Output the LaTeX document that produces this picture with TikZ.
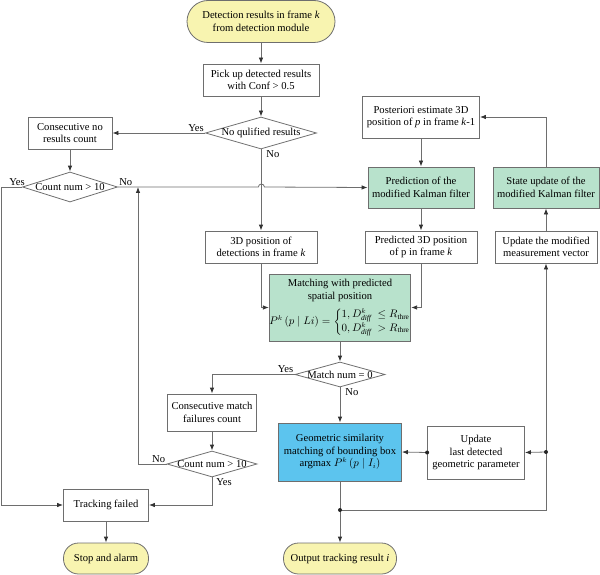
\documentclass[tikz,border=0pt]{standalone}
\usepackage{fontspec}
\usepackage{amsmath}
\setmainfont{Liberation Serif}
\usetikzlibrary{shapes.geometric,arrows.meta}
\definecolor{termyel}{RGB}{248,244,176}
\definecolor{kalgreen}{RGB}{184,226,204}
\definecolor{simblue}{RGB}{92,196,238}
\definecolor{linegray}{RGB}{110,110,110}

\begin{document}
\begin{tikzpicture}[x=1pt, y=-1pt, line width=0.8pt, font=\fontsize{10.6}{12.6}\selectfont,
  box/.style = {draw=linegray, rectangle, align=center, inner sep=1pt},
  term/.style = {box, fill=termyel},
  kal/.style = {box, fill=kalgreen},
  sim/.style = {box, fill=simblue},
  cond/.style = {draw=linegray, diamond, inner sep=0pt},
  arr/.style = {draw=linegray, -{Latex[length=6pt,width=4.5pt,color=black!80]}},
  lbl/.style = {inner sep=1pt}]

		\useasboundingbox (0,0) rectangle (600,575);

		\node[term, minimum width=148pt, minimum height=42pt, rounded corners=21pt] (S) at (261,21.5) {Detection results in frame \textit{k}\\from detection module};
		\node[box, minimum width=116pt, minimum height=32pt] (PU) at (261,80) {Pick up detected results\\with Conf > 0.5};
		\node[cond, minimum width=111pt, minimum height=32pt] (Q1) at (261,133) {\makebox[0pt]{No qulified results}};
		\node[box, minimum width=84pt, minimum height=32pt] (NR) at (70,133) {Consecutive no\\results count};
		\node[cond, minimum width=95pt, minimum height=30pt] (C1) at (70,187) {\makebox[0pt]{Count num > 10}};
		\node[box, minimum width=117pt, minimum height=42pt] (PE) at (421,117) {Posteriori estimate 3D\\position of \textit{p} in frame \textit{k}-1};
		\node[kal, minimum width=106pt, minimum height=41pt] (PR) at (421,187.5) {Prediction of the\\modified Kalman filter};
		\node[kal, minimum width=106pt, minimum height=41pt] (SU) at (546,187.5) {State update of the\\modified Kalman filter};
		\node[box, minimum width=112pt, minimum height=32pt] (D3) at (261,247) {3D position of\\detections in frame \textit{k}};
		\node[box, minimum width=112pt, minimum height=32pt] (P3) at (421,247) {Predicted 3D position\\of p in frame \textit{k}};
		\node[box, minimum width=102pt, minimum height=32pt] (UM) at (546,247) {Update the modified\\measurement vector};
		\node[kal, minimum width=134pt, minimum height=67pt, inner sep=0pt] (MA) at (340,307.5) {Matching with predicted\\spatial position\\[6pt]$P^k\,(p\mid Li)=\left\{\begin{array}{@{}l@{}}1, D^k_{\mathit{diff}}\;\le R_{\text{thre}}\\[1pt] 0, D^k_{\mathit{diff}}\;> R_{\text{thre}}\end{array}\right.$};
		\node[cond, minimum width=90pt, minimum height=25pt] (M0) at (340,374.5) {\makebox[0pt]{Match num = 0}};
		\node[box, minimum width=89pt, minimum height=37pt] (MF) at (212,412.5) {Consecutive match\\failures count};
		\node[cond, minimum width=90pt, minimum height=26pt] (C2) at (212,464) {\makebox[0pt]{Count num > 10}};
		\node[box, minimum width=85pt, minimum height=32pt] (TF) at (106,505) {Tracking failed};
		\node[term, minimum width=85pt, minimum height=31pt, rounded corners=15pt] (SA) at (106,558.5) {Stop and alarm};
		\node[sim, minimum width=123pt, minimum height=58pt] (GS) at (340,452) {Geometric similarity\\matching of bounding box\\argmax $P^k\,(p\mid I_i)$};
		\node[box, minimum width=97pt, minimum height=53pt] (UG) at (476,452.5) {Update\\last detected\\geometric parameter};
		\node[term, minimum width=113pt, minimum height=31pt, rounded corners=15pt] (OT) at (340,558.5) {Output tracking result \textit{i}};

		\coordinate (J1) at (138,187);
		\coordinate (J2) at (340,510);
		\coordinate (J3) at (546,452);

		\draw[arr] (S) -- (PU);
		\draw[arr] (PU) -- (Q1);
		\draw[arr] (Q1.west) node[lbl, above left] {Yes} -- (NR.east);
		\draw[arr] (Q1.south) node[lbl, below right, xshift=4pt] {No} -- (D3.north);
		\draw[arr] (NR) -- (C1);
		\draw[arr] (C1.west) node[lbl, above, xshift=-5pt] {Yes} -- ++(-21,0) |- (TF.west);
		\draw[arr] (C1.east) node[lbl, above right] {No} -- ++(140.5,0) arc (180:0:3pt) -- (PR.west);
		\draw[arr] (PE) -- (PR);
		\draw[arr] (PR) -- (P3);
		\draw[arr] (SU.north) |- (PE.east);
		\draw[arr] (UM) -- (SU);
		\draw[arr] (D3.south) |- (MA.west);
		\draw[arr] (P3.south) |- (MA.east);
		\draw[arr] (MA) -- (M0);
		\draw[arr] (M0.west) node[lbl, above left] {Yes} -| (MF.north);
		\draw[arr] (M0.south) node[lbl, below right, xshift=4pt] {No} -- (GS.north);
		\draw[arr] (MF) -- (C2);
		\draw[arr] (C2.west) node[lbl, above left] {No} -| (J1);
		\draw[arr] (C2.south) node[lbl, below right, xshift=3pt] {Yes} |- (TF.east);
		\draw[arr] (TF) -- (SA);
		\draw[arr] (GS) -- (OT);
		\draw[arr] (J2) -| (UM.south);
		\draw[arr] (J3) -- (UG.east);
		\draw[arr] (UG.west) -- (GS.east);
		\fill[black!85] (J2) circle (2pt) (J3) circle (2pt) (UG.west) circle (2pt);
	\end{tikzpicture}
\end{document}
